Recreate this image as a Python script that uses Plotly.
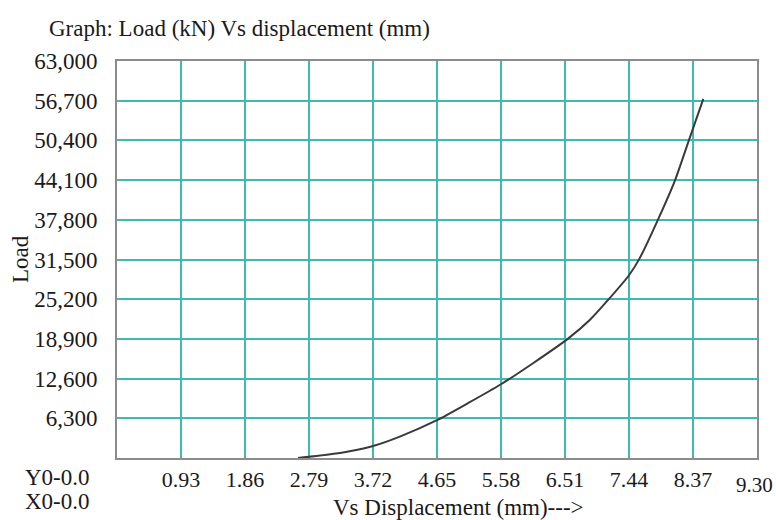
import plotly.graph_objects as go

# Data
displacement_mm = [2.63, 3.05, 3.40, 3.72, 4.11, 4.65, 5.10, 5.58, 6.04, 6.55,
                   6.87, 7.13, 7.44, 7.59, 7.86, 8.11, 8.31, 8.52]
load_kn = [0, 500, 1100, 1900, 3400, 6000, 8700, 11700, 15000, 18900,
           21900, 25000, 29000, 31600, 37800, 44100, 50400, 57000]

x_ticks = [0.93, 1.86, 2.79, 3.72, 4.65, 5.58, 6.51, 7.44, 8.37]
x_last_tick = 9.30
y_ticks = [6300, 12600, 18900, 25200, 31500, 37800, 44100, 50400, 56700, 63000]

FONT = "Liberation Serif, Times New Roman, serif"
GRID = "#3dbab2"
TXT = "#1a1a1a"

# plot area sits at x 117..757, y 61..458 of the 776x520 page
PL, PR, PT, PB = 117, 757, 61, 458
W, H = 776, 520

fig = go.Figure()
fig.add_trace(go.Scatter(
    x=displacement_mm, y=load_kn, mode="lines",
    line=dict(color="#3a3a3a", width=2, shape="spline", smoothing=0.6),
    showlegend=False, hoverinfo="skip"))

fig.update_layout(
    width=W, height=H,
    margin=dict(l=PL, r=W - PR, t=PT, b=H - PB),
    paper_bgcolor="white", plot_bgcolor="white",
    font=dict(family=FONT, size=22, color=TXT),
    showlegend=False,
)

fig.update_xaxes(
    range=[0, 9.30], tickvals=x_ticks + [x_last_tick],
    ticktext=[f"{v:.2f}" for v in x_ticks] + [""],
    showgrid=True, gridcolor=GRID, gridwidth=2,
    showline=True, linecolor="#8c8c8c", linewidth=2, mirror=True,
    ticks="outside", ticklen=1, tickcolor="rgba(0,0,0,0)",
    tickfont=dict(family=FONT, size=22, color=TXT),
    zeroline=False, fixedrange=True,
)
fig.update_yaxes(
    range=[0, 63000], tickvals=y_ticks,
    ticktext=[f"{v:,}" for v in y_ticks],
    showgrid=True, gridcolor=GRID, gridwidth=2,
    showline=True, linecolor="#8c8c8c", linewidth=2, mirror=True,
    ticks="outside", ticklen=13, tickcolor="rgba(0,0,0,0)",
    tickfont=dict(family=FONT, size=23, color=TXT),
    zeroline=False, fixedrange=True,
)

ann = [
    dict(text="Graph: Load (kN) Vs displacement (mm)", x=47, y=28, xanchor="left"),
    dict(text="Load", x=20, y=259, textangle=-90),
    dict(text="Y0-0.0", x=23, y=477, xanchor="left"),
    dict(text="X0-0.0", x=23, y=502, xanchor="left"),
    dict(text="Vs Displacement (mm)--->", x=331, y=507, xanchor="left"),
]
for a in ann:
    fig.add_annotation(
        text=a["text"], x=(a["x"] - PL) / (PR - PL), y=(PB - a["y"]) / (PB - PT),
        xref="paper", yref="paper", xanchor=a.get("xanchor", "center"),
        yanchor="middle", showarrow=False, textangle=a.get("textangle", 0),
        font=dict(family=FONT, size=23, color=TXT))

fig.add_annotation(text=f"{x_last_tick:.2f}", x=x_last_tick, xref="x", xshift=-3,
                   y=(PB - 485) / (PB - PT), yref="paper", showarrow=False,
                   xanchor="center", yanchor="middle",
                   font=dict(family=FONT, size=21, color=TXT))

fig.write_html(
    "out.html",
    config={"displayModeBar": False, "staticPlot": True},
    post_script="document.body.style.margin='0';document.body.style.overflow='hidden';",
)
